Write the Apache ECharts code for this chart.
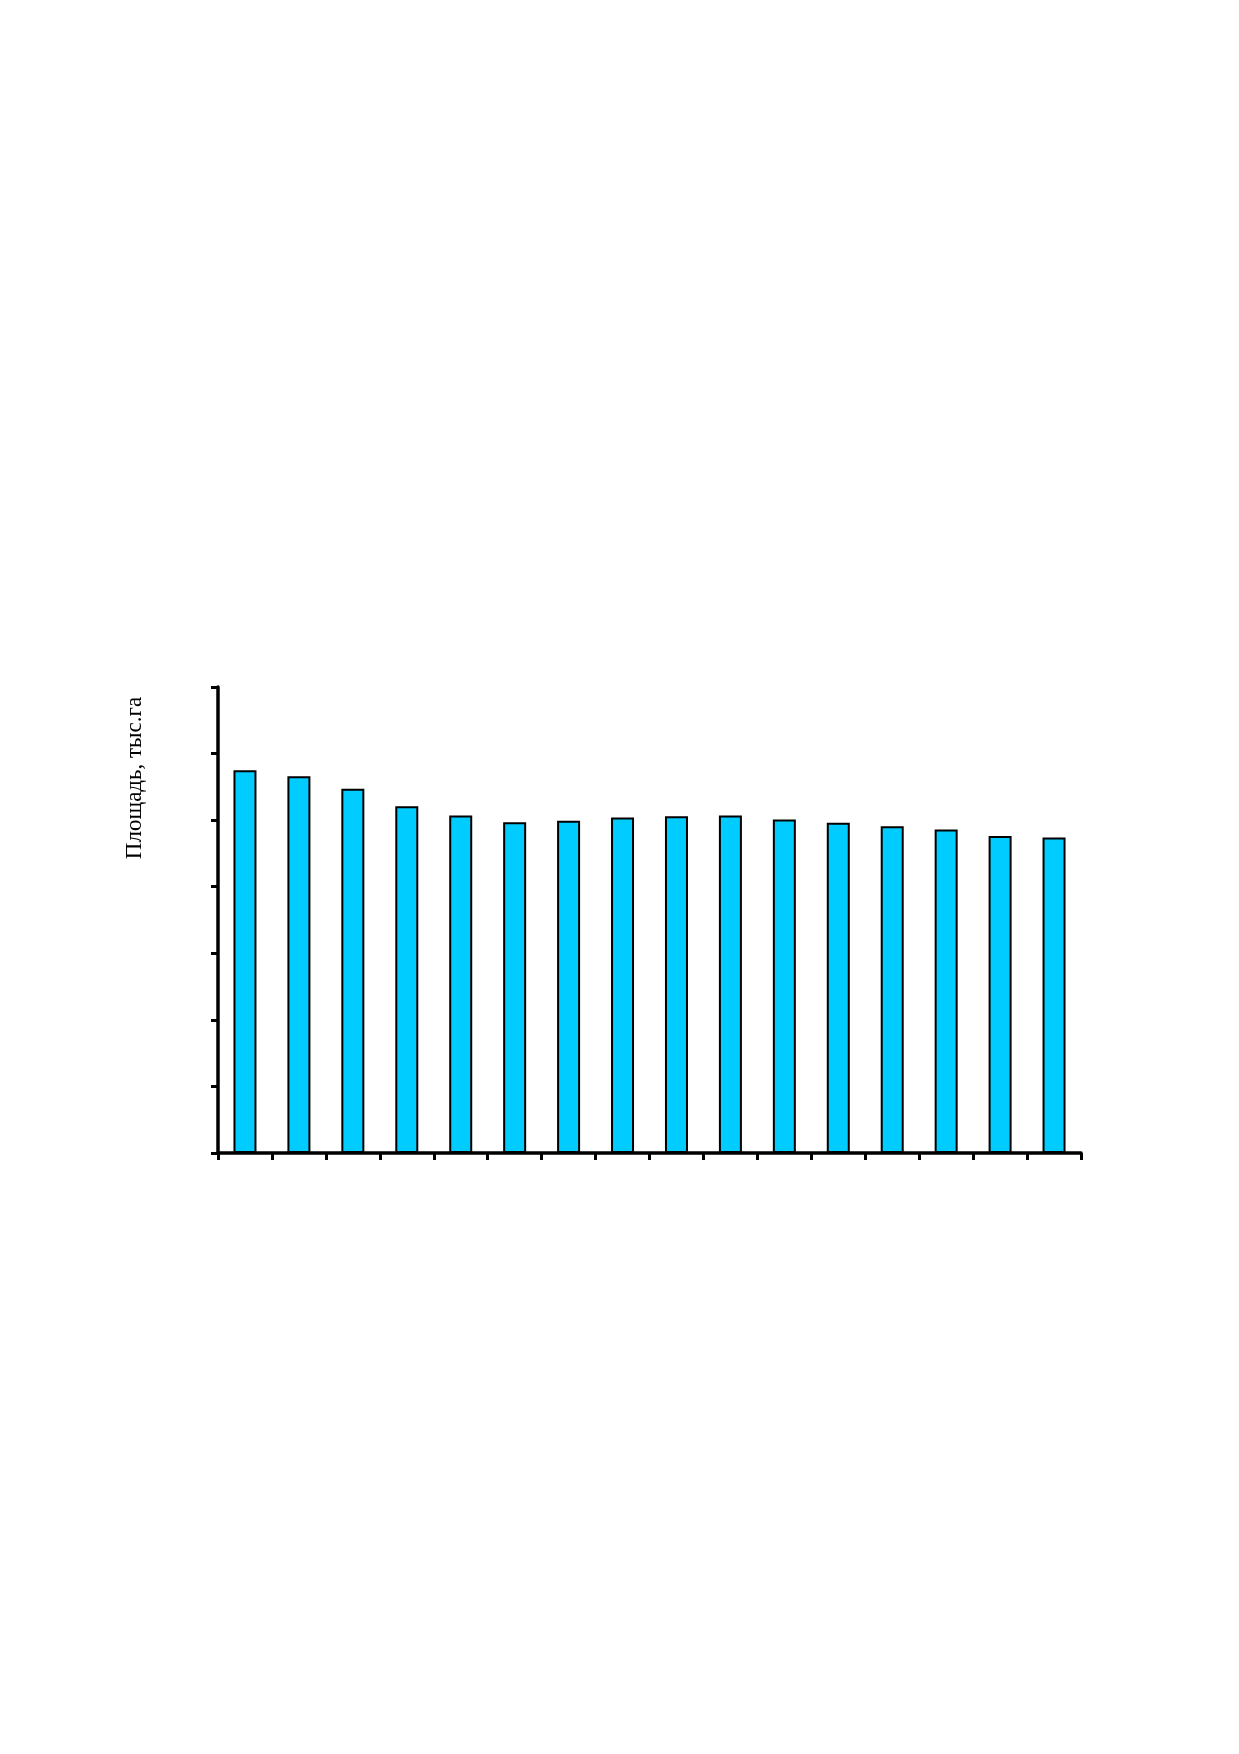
<!DOCTYPE html>
<html>
<head>
<meta charset="utf-8">
<script src="https://cdn.jsdelivr.net/npm/echarts@6/dist/echarts.min.js"></script>
<style>
html,body{margin:0;padding:0;background:#fff;}
#c{width:1239px;height:1754px;}
</style>
</head>
<body>
<div id="c"></div>
<script>
var categories = ['1','2','3','4','5','6','7','8','9','10','11','12','13','14','15','16'];
var values = [5.75, 5.66, 5.47, 5.21, 5.07, 4.97, 4.99, 5.04, 5.06, 5.07, 5.01, 4.96, 4.91, 4.86, 4.76, 4.74];
var yAxisTitle = 'Площадь, тыс.га';

var chart = echarts.init(document.getElementById('c'), null, {renderer: 'canvas'});
chart.setOption({
  animation: false,
  backgroundColor: '#ffffff',
  grid: {left: 218, right: 158, top: 687, bottom: 601, containLabel: false},
  xAxis: {
    type: 'category',
    data: categories,
    boundaryGap: true,
    axisLine: {show: true, lineStyle: {color: '#000', width: 3.5}},
    axisTick: {show: true, length: 7, inside: false, alignWithLabel: false, lineStyle: {color: '#000', width: 3}},
    axisLabel: {show: false},
    splitLine: {show: false}
  },
  yAxis: {
    type: 'value',
    min: 0,
    max: 7,
    interval: 1,
    axisLine: {show: true, lineStyle: {color: '#000', width: 3.5}},
    axisTick: {show: true, length: 7, lineStyle: {color: '#000', width: 3}},
    axisLabel: {show: false},
    splitLine: {show: false}
  },
  graphic: [{
    type: 'text',
    x: 135,
    y: 778,
    rotation: Math.PI / 2,
    style: {
      text: yAxisTitle,
      font: '23px "Liberation Serif", "DejaVu Serif", serif',
      fill: '#000',
      align: 'center',
      verticalAlign: 'middle'
    }
  }],
  series: [{
    type: 'bar',
    data: values,
    barWidth: 23,
    itemStyle: {color: '#00CCFF', borderColor: '#000', borderWidth: 2}
  }]
});
</script>
</body>
</html>
